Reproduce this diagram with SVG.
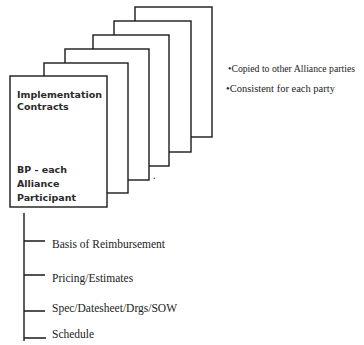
<svg xmlns="http://www.w3.org/2000/svg" width="364" height="345" viewBox="0 0 364 345">
<style>
.pg{fill:#fff;stroke:#1a1a1a;stroke-width:1.4}
.bx{font-family:"DejaVu Sans",sans-serif;font-weight:bold;font-size:9.5px;fill:#2a2a2a}
.nt{font-family:"Liberation Serif",serif;font-size:10.5px;fill:#222}
.it{font-family:"Liberation Serif",serif;font-size:11.5px;fill:#222}
.ln{stroke:#1a1a1a;stroke-width:1.4;fill:none}
</style>
<rect width="364" height="345" fill="#fff"/>
<g id="page6"><rect class="pg" x="135" y="7" width="77" height="130"/></g>
<g id="page5"><rect class="pg" x="114" y="21" width="77" height="131"/></g>
<g id="page4"><rect class="pg" x="93" y="35" width="76" height="131"/></g>
<g id="page3"><rect class="pg" x="65" y="49" width="84" height="131"/></g>
<g id="page2"><rect class="pg" x="44" y="63" width="84" height="130"/></g>
<g id="page1">
<rect class="pg" x="10" y="76" width="97" height="131"/>
<text class="bx" x="17" y="97.5">Implementation</text>
<text class="bx" x="17" y="109.5">Contracts</text>
<text class="bx" x="17" y="172.5">BP - each</text>
<text class="bx" x="17" y="186.5">Alliance</text>
<text class="bx" x="17" y="200.5">Participant</text>
</g>
<circle cx="154.3" cy="178.3" r="0.8" fill="#555"/>
<g id="notes">
<text class="nt" x="228" y="72" textLength="127" lengthAdjust="spacingAndGlyphs">•Copied to other Alliance parties</text>
<text class="nt" x="226" y="92">•Consistent for each party</text>
</g>
<g id="connectors">
<path class="ln" d="M24 213V341M24 241H45M24 275H45M24 311H45M24 338H46"/>
</g>
<g id="items">
<text class="it" x="52" y="248">Basis of Reimbursement</text>
<text class="it" x="52" y="282">Pricing/Estimates</text>
<text class="it" x="52" y="312">Spec/Datesheet/Drgs/SOW</text>
<text class="it" x="52" y="338">Schedule</text>
</g>
</svg>
